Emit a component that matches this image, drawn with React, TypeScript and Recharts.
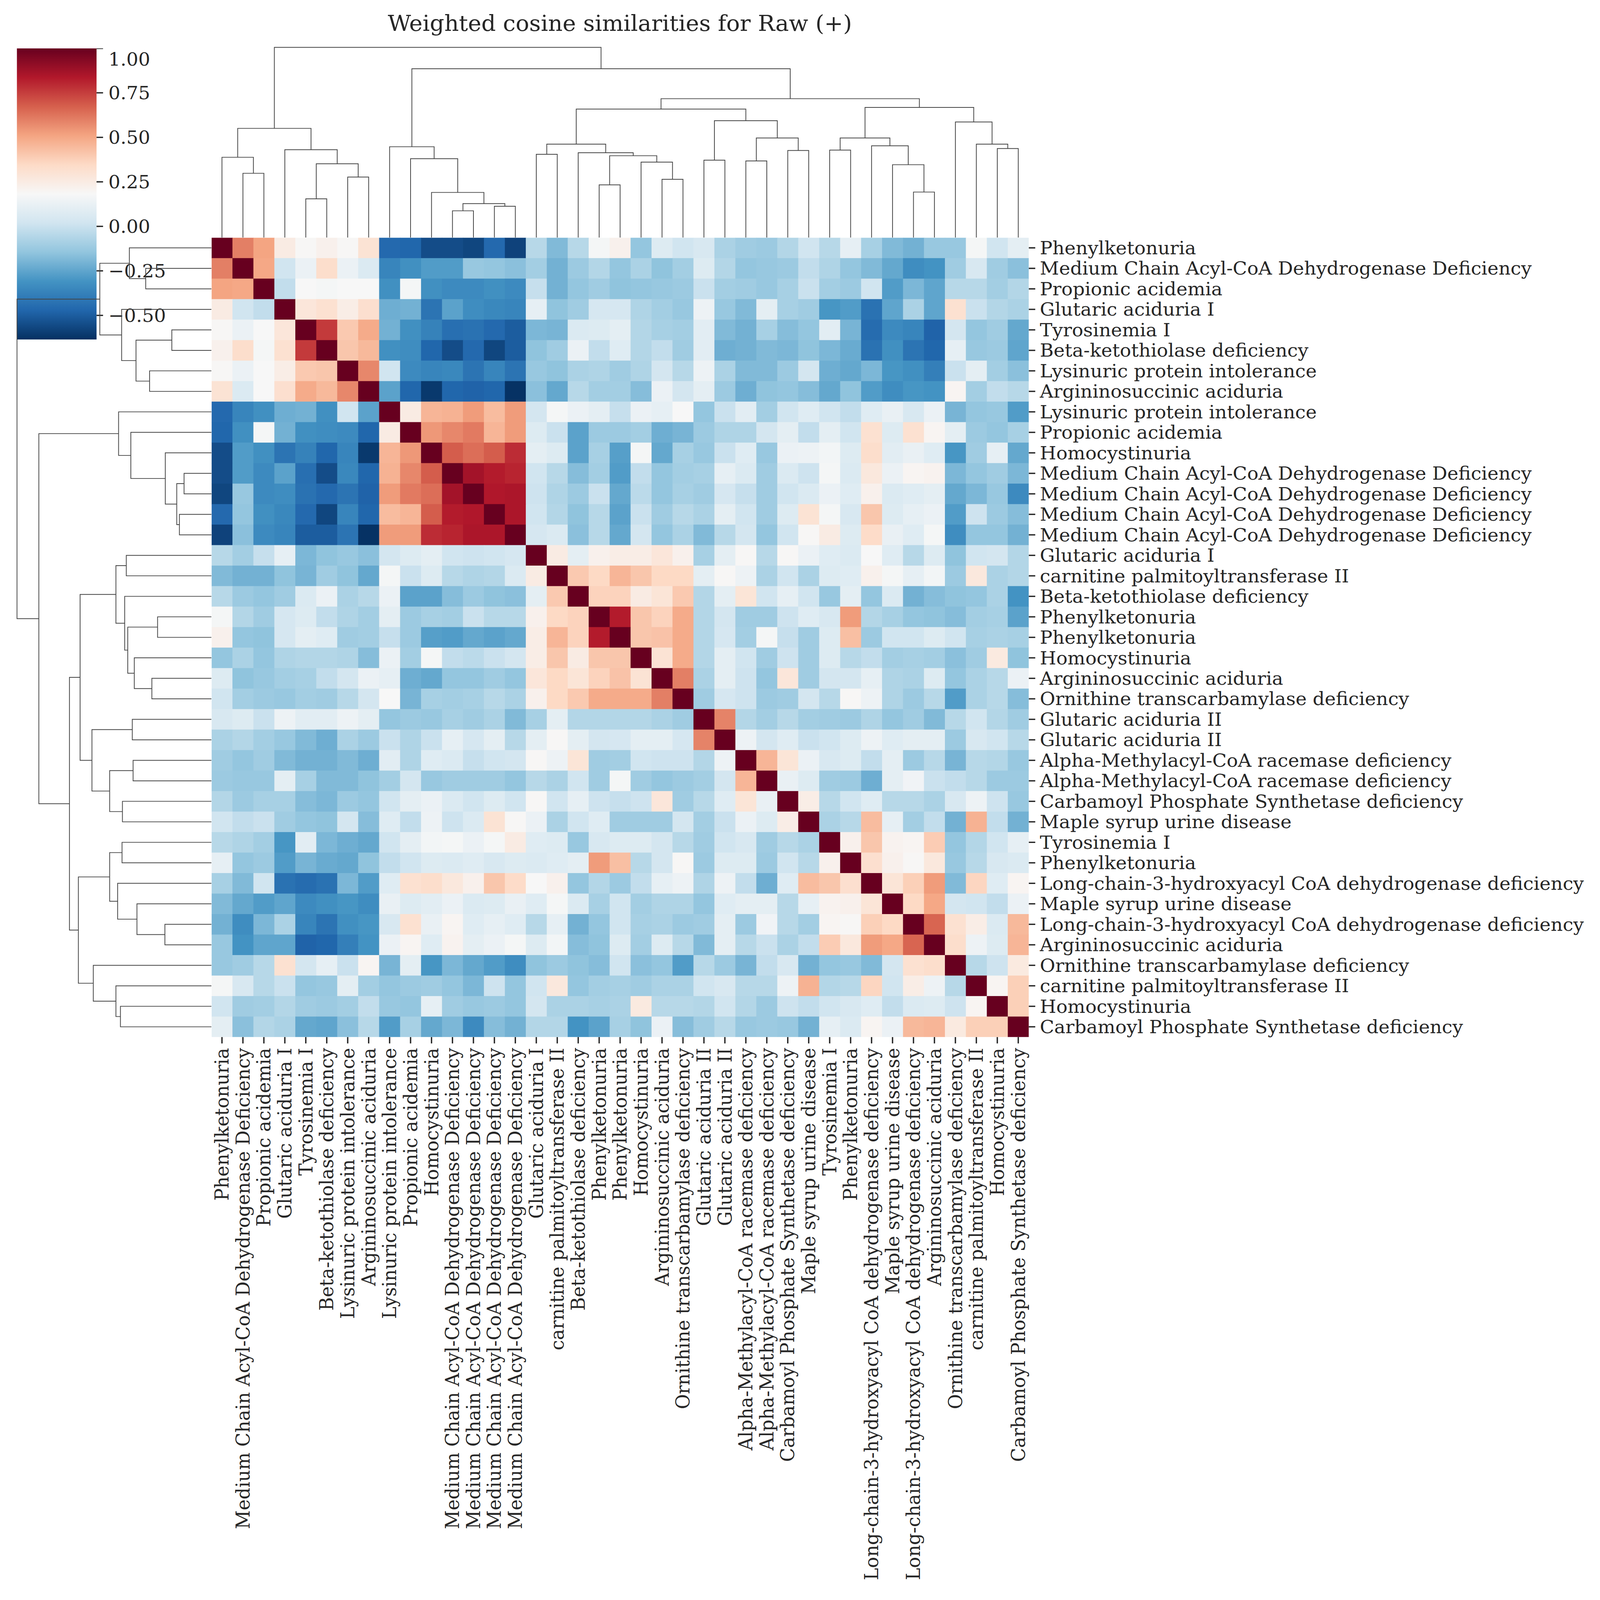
import React from "react";
import { ScatterChart, Scatter, BarChart, Bar, XAxis, YAxis } from "recharts";

document.body.style.margin = "0";

// leaf order (same for rows and columns)
const labels = [
  "Phenylketonuria",
  "Medium Chain Acyl-CoA Dehydrogenase Deficiency",
  "Propionic acidemia",
  "Glutaric aciduria I",
  "Tyrosinemia I",
  "Beta-ketothiolase deficiency",
  "Lysinuric protein intolerance",
  "Argininosuccinic aciduria",
  "Lysinuric protein intolerance",
  "Propionic acidemia",
  "Homocystinuria",
  "Medium Chain Acyl-CoA Dehydrogenase Deficiency",
  "Medium Chain Acyl-CoA Dehydrogenase Deficiency",
  "Medium Chain Acyl-CoA Dehydrogenase Deficiency",
  "Medium Chain Acyl-CoA Dehydrogenase Deficiency",
  "Glutaric aciduria I",
  "carnitine palmitoyltransferase II",
  "Beta-ketothiolase deficiency",
  "Phenylketonuria",
  "Phenylketonuria",
  "Homocystinuria",
  "Argininosuccinic aciduria",
  "Ornithine transcarbamylase deficiency",
  "Glutaric aciduria II",
  "Glutaric aciduria II",
  "Alpha-Methylacyl-CoA racemase deficiency",
  "Alpha-Methylacyl-CoA racemase deficiency",
  "Carbamoyl Phosphate Synthetase deficiency",
  "Maple syrup urine disease",
  "Tyrosinemia I",
  "Phenylketonuria",
  "Long-chain-3-hydroxyacyl CoA dehydrogenase deficiency",
  "Maple syrup urine disease",
  "Long-chain-3-hydroxyacyl CoA dehydrogenase deficiency",
  "Argininosuccinic aciduria",
  "Ornithine transcarbamylase deficiency",
  "carnitine palmitoyltransferase II",
  "Homocystinuria",
  "Carbamoyl Phosphate Synthetase deficiency",
];

// upper triangle of the similarity matrix: row i holds columns i..38
const upperRows: number[][] = [
  [1, 0.6, 0.51, 0.25, 0.19, 0.22, 0.19, 0.3, -0.46, -0.47, -0.55, -0.55, -0.57, -0.46, -0.58, -0.05, -0.18, -0.05, 0.17, 0.22, -0.14, 0.07, 0.02, 0.05, -0.08, -0.11, -0.12, -0.06, 0.02, -0.05, 0.11, -0.09, -0.18, -0.21, -0.13, -0.13, 0.17, 0.02, 0.1],
  [1, 0.5, 0.02, 0.13, 0.33, 0.13, 0.06, -0.36, -0.32, -0.28, -0.28, -0.13, -0.14, -0.16, -0.1, -0.21, -0.12, -0.06, -0.14, -0.08, -0.15, -0.1, 0.07, -0.06, -0.14, -0.13, -0.12, -0.02, -0.07, -0.14, -0.18, -0.24, -0.33, -0.31, -0.11, 0.05, -0.11, -0.16],
  [1, -0.02, 0.18, 0.17, 0.18, 0.18, -0.32, 0.17, -0.32, -0.34, -0.34, -0.32, -0.34, -0.01, -0.21, -0.14, -0.11, -0.15, -0.14, -0.13, -0.12, 0.0, -0.1, -0.11, -0.13, -0.09, 0.0, -0.1, -0.12, 0.02, -0.28, -0.19, -0.25, -0.05, -0.05, -0.1, -0.06],
  [1, 0.28, 0.31, 0.24, 0.32, -0.22, -0.21, -0.42, -0.26, -0.33, -0.35, -0.36, 0.11, -0.15, -0.11, 0.04, 0.04, -0.07, -0.1, -0.13, 0.14, -0.13, -0.18, 0.1, -0.09, -0.11, -0.3, -0.28, -0.43, -0.25, -0.08, -0.25, 0.31, 0.0, -0.06, -0.08],
  [1, 0.76, 0.4, 0.49, -0.21, -0.32, -0.37, -0.44, -0.43, -0.46, -0.5, -0.19, -0.2, 0.06, 0.07, 0.1, -0.06, -0.09, -0.1, 0.09, -0.18, -0.21, -0.09, -0.17, -0.14, 0.09, -0.2, -0.45, -0.34, -0.36, -0.48, 0.03, -0.14, -0.11, -0.24],
  [1, 0.41, 0.45, -0.32, -0.33, -0.47, -0.55, -0.46, -0.57, -0.5, -0.15, -0.11, 0.13, -0.02, 0.08, -0.06, -0.02, -0.11, 0.09, -0.22, -0.21, -0.18, -0.19, -0.15, -0.19, -0.23, -0.43, -0.32, -0.42, -0.47, 0.11, -0.13, -0.12, -0.25],
  [1, 0.58, 0.02, -0.34, -0.36, -0.35, -0.42, -0.36, -0.42, -0.13, -0.15, -0.08, -0.07, -0.11, -0.07, 0.03, -0.05, 0.14, -0.08, -0.18, -0.18, -0.12, 0.03, -0.22, -0.24, -0.19, -0.3, -0.32, -0.38, 0.0, 0.1, -0.1, -0.16],
  [1, -0.26, -0.47, -0.61, -0.47, -0.48, -0.47, -0.63, -0.16, -0.24, -0.05, -0.1, -0.1, -0.17, 0.13, 0.03, 0.1, -0.12, -0.22, -0.15, -0.14, -0.17, -0.24, -0.15, -0.28, -0.33, -0.3, -0.31, 0.2, -0.1, -0.02, -0.05],
  [1, 0.25, 0.46, 0.47, 0.53, 0.44, 0.53, 0.03, 0.17, 0.13, 0.1, -0.01, 0.13, 0.11, 0.18, -0.14, 0.0, 0.09, -0.1, 0.02, 0.08, 0.02, -0.02, 0.08, 0.12, 0.05, 0.13, -0.2, -0.14, -0.13, -0.28],
  [1, 0.54, 0.58, 0.61, 0.46, 0.53, 0.07, 0.0, -0.26, -0.12, -0.12, -0.1, -0.22, -0.2, -0.12, -0.07, -0.07, 0.03, 0.1, -0.02, 0.1, 0.02, 0.31, 0.07, 0.31, 0.2, 0.1, -0.12, -0.14, -0.09],
  [1, 0.68, 0.64, 0.68, 0.79, 0.1, 0.07, -0.26, -0.09, -0.27, 0.17, -0.24, -0.09, -0.13, 0.0, 0.08, -0.13, 0.13, 0.14, 0.16, 0.07, 0.33, 0.09, 0.12, 0.08, -0.3, -0.11, 0.11, -0.24],
  [1, 0.87, 0.83, 0.81, 0.02, -0.05, -0.17, -0.1, -0.28, -0.02, -0.14, -0.1, -0.09, 0.11, 0.06, -0.11, 0.06, 0.01, 0.17, 0.06, 0.27, 0.13, 0.2, 0.21, -0.19, -0.14, -0.11, -0.19],
  [1, 0.84, 0.85, 0.01, -0.07, -0.12, 0.0, -0.24, -0.04, -0.14, -0.09, -0.11, 0.04, -0.01, -0.11, 0.02, 0.06, 0.13, 0.08, 0.22, 0.06, 0.08, 0.1, -0.24, -0.19, -0.13, -0.34],
  [1, 0.85, 0.02, -0.06, -0.15, -0.05, -0.26, 0.0, -0.11, -0.05, -0.08, 0.1, 0.02, -0.11, 0.07, 0.3, 0.17, 0.05, 0.41, 0.07, 0.11, 0.13, -0.28, 0.01, -0.12, -0.17],
  [1, 0.04, 0.06, -0.16, -0.05, -0.24, 0.03, -0.14, -0.08, -0.18, -0.05, 0.03, -0.14, 0.02, 0.19, 0.25, 0.07, 0.34, 0.12, 0.08, 0.17, -0.33, -0.14, -0.14, -0.21],
  [1, 0.25, 0.1, 0.22, 0.24, 0.24, 0.28, 0.22, -0.09, 0.1, 0.19, -0.05, 0.19, 0.13, 0.08, 0.06, 0.18, 0.08, -0.05, 0.07, -0.15, 0.02, 0.03, -0.06],
  [1, 0.4, 0.35, 0.46, 0.41, 0.35, 0.35, 0.1, 0.19, 0.14, -0.08, 0.02, -0.08, 0.07, 0.08, 0.22, 0.17, 0.11, 0.16, -0.12, 0.27, -0.08, -0.06],
  [1, 0.37, 0.37, 0.25, 0.29, 0.4, -0.06, 0.1, 0.29, 0.02, 0.11, 0.02, -0.13, 0.1, -0.14, 0.06, -0.21, -0.17, -0.15, -0.14, -0.08, -0.31],
  [1, 0.83, 0.41, 0.37, 0.49, -0.06, 0.03, -0.11, -0.11, 0.01, 0.08, 0.05, 0.53, -0.06, -0.09, -0.14, -0.15, -0.17, -0.1, -0.09, -0.26],
  [1, 0.41, 0.42, 0.49, -0.06, 0.04, -0.1, 0.17, -0.01, -0.11, 0.07, 0.43, -0.12, 0.02, 0.02, 0.07, 0.02, -0.09, -0.08, -0.09],
  [1, 0.3, 0.49, -0.06, 0.1, 0.02, -0.11, 0.01, -0.11, 0.07, -0.05, -0.02, -0.1, -0.09, -0.1, -0.16, -0.11, 0.26, -0.15],
  [1, 0.6, -0.08, 0.1, 0.01, -0.14, 0.28, -0.11, 0.03, 0.03, 0.11, -0.07, -0.08, 0.07, -0.14, -0.08, -0.05, 0.13],
  [1, -0.11, 0.04, 0.01, -0.12, -0.11, 0.03, -0.05, 0.19, 0.14, -0.07, -0.12, -0.05, -0.28, -0.08, -0.05, -0.17],
  [1, 0.59, -0.06, -0.1, -0.05, -0.1, -0.11, -0.12, -0.07, -0.14, -0.11, -0.18, -0.05, 0.02, -0.06, -0.11],
  [1, 0.14, 0.03, 0.08, 0.0, 0.02, 0.07, 0.14, 0.08, 0.1, 0.1, -0.12, 0.05, 0.02, -0.05],
  [1, 0.46, 0.29, 0.13, 0.05, 0.07, -0.02, 0.1, -0.12, -0.05, -0.2, -0.05, -0.06, -0.13],
  [1, 0.12, 0.07, -0.11, -0.12, -0.22, 0.1, 0.15, 0.0, -0.02, -0.05, -0.12, -0.12],
  [1, 0.24, -0.05, 0.02, 0.08, -0.05, -0.05, -0.08, 0.05, 0.14, 0.01, -0.13],
  [1, -0.08, -0.05, 0.44, 0.11, -0.1, -0.02, -0.21, 0.47, -0.02, -0.21],
  [1, 0.22, 0.41, 0.21, 0.2, 0.39, -0.14, -0.06, 0.02, 0.11],
  [1, 0.32, 0.22, 0.19, 0.27, -0.13, -0.05, 0.05, 0.06],
  [1, 0.29, 0.38, 0.53, -0.18, 0.36, 0.08, 0.2],
  [1, 0.35, 0.5, 0.03, 0.02, -0.02, 0.13],
  [1, 0.66, 0.31, 0.24, 0.06, 0.45],
  [1, 0.33, 0.14, 0.07, 0.46],
  [1, -0.05, 0.01, 0.26],
  [1, 0.2, 0.38],
  [1, 0.38],
  [1],
];

// linkage: ids 0..38 are leaves, merge k creates id 39 + k
const mergeLeft = [11, 13, 39, 4, 10, 33, 18, 21, 6, 1, 32, 42, 20, 25, 23, 9, 0, 45, 15, 17, 27, 29, 3, 37, 8, 31, 57, 36, 52, 60, 55, 35, 53, 65, 68, 72, 63, 69];
const mergeRight = [12, 14, 40, 5, 41, 34, 19, 22, 7, 2, 44, 47, 46, 26, 24, 43, 48, 51, 16, 56, 28, 30, 50, 38, 54, 49, 58, 62, 59, 64, 61, 66, 67, 71, 70, 73, 74, 75];
const mergeHeight = [0.206, 0.241, 0.261, 0.298, 0.347, 0.35, 0.405, 0.448, 0.465, 0.494, 0.56, 0.567, 0.58, 0.589, 0.595, 0.606, 0.617, 0.629, 0.64, 0.652, 0.669, 0.672, 0.675, 0.684, 0.698, 0.705, 0.718, 0.718, 0.765, 0.765, 0.839, 0.888, 0.898, 0.987, 1.0, 1.067, 1.297, 1.461];

const colorbarTicks = [-0.5, -0.25, 0, 0.25, 0.5, 0.75, 1];
const VMIN = -0.636;
const VMAX = 1;
const colorbarSpan = [{ key: "cbar", span: [VMIN, VMAX] }];

const rdbuR = ["#053061", "#2166ac", "#4393c3", "#92c5de", "#d1e5f0", "#f7f7f7", "#fddbc7", "#f4a582", "#d6604d", "#b2182b", "#67001f"];

const FONT = "DejaVu Serif";
const INK = "#262626";
const N = labels.length;
// layout is drawn on the reference's 4176x4269 canvas, then fitted to the viewport
const PAGE_W = 4176;
const PAGE_H = 4269;
const HEAT = 2133;
const CELL = HEAT / N;
const HEAT_LEFT = 552;
const HEAT_TOP = 634;
const DENDRO = 533;
const DENDRO_MAX = 1.461 * 1.05;
const TICK_FONT = 49;

function hexToRgb(h: string) {
  return [1, 3, 5].map((i) => parseInt(h.slice(i, i + 2), 16));
}

function colorFor(v: number) {
  const t = Math.min(1, Math.max(0, (v - VMIN) / (VMAX - VMIN)));
  const s = t * (rdbuR.length - 1);
  const i = Math.min(rdbuR.length - 2, Math.floor(s));
  const f = s - i;
  const a = hexToRgb(rdbuR[i]);
  const b = hexToRgb(rdbuR[i + 1]);
  const c = a.map((x, k) => Math.round(x + (b[k] - x) * f));
  return `rgb(${c[0]},${c[1]},${c[2]})`;
}

function valueAt(r: number, c: number) {
  return r <= c ? upperRows[r][c - r] : upperRows[c][r - c];
}

const cells: { x: number; y: number; v: number }[] = [];
for (let r = 0; r < N; r++) {
  for (let c = 0; c < N; c++) {
    cells.push({ x: c + 0.5, y: r + 0.5, v: valueAt(r, c) });
  }
}

// U-shaped links of the dendrogram, in leaf-position / height units
function buildLinks() {
  const pos: number[] = labels.map((_, i) => i + 0.5);
  const hgt: number[] = labels.map(() => 0);
  const links: { p: number; h: number }[][] = [];
  mergeLeft.forEach((a, k) => {
    const b = mergeRight[k];
    const h = mergeHeight[k];
    links.push([
      { p: pos[a], h: hgt[a] },
      { p: pos[a], h },
      { p: pos[b], h },
      { p: pos[b], h: hgt[b] },
    ]);
    pos.push((pos[a] + pos[b]) / 2);
    hgt.push(h);
  });
  return links;
}
const links = buildLinks();

const positions = labels.map((_, i) => i + 0.5);
const noDot = () => <g />;
const linkStyle = { stroke: "#444", strokeWidth: 2 };

const CellShape = (props: any) => {
  const { cx, cy, payload } = props;
  return <rect x={cx - CELL / 2} y={cy - CELL / 2} width={CELL + 0.8} height={CELL + 0.8} fill={colorFor(payload.v)} />;
};

const RowTick = (props: any) => {
  const { x, y, payload } = props;
  return (
    <text x={x} y={y} dy="0.35em" textAnchor="start" fontFamily={FONT} fontSize={TICK_FONT} fill={INK}>
      {labels[Math.floor(payload.value)]}
    </text>
  );
};

const ColTick = (props: any) => {
  const { x, y, payload } = props;
  return (
    <text x={x} y={y} dy="0.35em" transform={`rotate(-90 ${x} ${y})`} textAnchor="end" fontFamily={FONT} fontSize={TICK_FONT} fill={INK}>
      {labels[Math.floor(payload.value)]}
    </text>
  );
};

const fmt = (v: number) => v.toFixed(2).replace("-", "\u2212");

export default function App() {
  const vw = window.innerWidth || PAGE_W;
  const vh = window.innerHeight || PAGE_H;
  const sx = vw / PAGE_W;
  const sy = vh / PAGE_H;
  return (
    <div style={{ width: vw, height: vh, overflow: "hidden", background: "#fff" }}>
      <div
        style={{
          position: "relative",
          width: PAGE_W,
          height: PAGE_H,
          overflow: "hidden",
          background: "#fff",
          fontFamily: FONT,
          transform: `scale(${sx}, ${sy})`,
          transformOrigin: "0 0",
        }}
      >
        <svg width={0} height={0} style={{ position: "absolute" }}>
          <defs>
            <linearGradient id="rdbu" x1="0" y1="1" x2="0" y2="0">
              {rdbuR.map((c, i) => (
                <stop key={i} offset={i / (rdbuR.length - 1)} stopColor={c} />
              ))}
            </linearGradient>
          </defs>
        </svg>

        <div style={{ position: "absolute", left: 0, width: 3236, top: 32, textAlign: "center", fontSize: 59, lineHeight: "59px", color: INK }}>
          Weighted cosine similarities for Raw (+)
        </div>

        {/* colour bar */}
        <div style={{ position: "absolute", left: 44, top: 129 }}>
          <BarChart width={508} height={777} data={colorbarSpan} margin={{ top: 0, right: 0, bottom: 0, left: 0 }} barCategoryGap={0}>
            <XAxis type="category" dataKey="key" hide />
            <YAxis
              type="number"
              orientation="right"
              width={300}
              domain={[VMIN, VMAX]}
              ticks={colorbarTicks}
              tickFormatter={fmt}
              axisLine={false}
              tickSize={17}
              tickMargin={14}
              tickLine={{ stroke: INK, strokeWidth: 3.5 }}
              tick={{ fontFamily: FONT, fontSize: TICK_FONT, fill: INK }}
              allowDataOverflow
            />
            <Bar dataKey="span" fill="url(#rdbu)" isAnimationActive={false} />
          </BarChart>
        </div>

        {/* column dendrogram */}
        <div style={{ position: "absolute", left: HEAT_LEFT, top: HEAT_TOP - DENDRO }}>
          <ScatterChart width={HEAT} height={DENDRO} margin={{ top: 0, right: 0, bottom: 0, left: 0 }}>
            <XAxis type="number" dataKey="p" domain={[0, N]} hide />
            <YAxis type="number" dataKey="h" domain={[0, DENDRO_MAX]} hide />
            {links.map((pts, i) => (
              <Scatter key={i} data={pts} line={linkStyle} shape={noDot} isAnimationActive={false} />
            ))}
          </ScatterChart>
        </div>

        {/* row dendrogram */}
        <div style={{ position: "absolute", left: HEAT_LEFT - DENDRO, top: HEAT_TOP }}>
          <ScatterChart width={DENDRO} height={HEAT} margin={{ top: 0, right: 0, bottom: 0, left: 0 }}>
            <XAxis type="number" dataKey="h" domain={[0, DENDRO_MAX]} reversed hide />
            <YAxis type="number" dataKey="p" domain={[0, N]} reversed hide />
            {links.map((pts, i) => (
              <Scatter key={i} data={pts} line={linkStyle} shape={noDot} isAnimationActive={false} />
            ))}
          </ScatterChart>
        </div>

        {/* heatmap */}
        <div style={{ position: "absolute", left: HEAT_LEFT, top: HEAT_TOP }}>
          <ScatterChart width={HEAT + 1491} height={HEAT + 1502} margin={{ top: 0, right: 0, bottom: 0, left: 0 }}>
            <XAxis
              type="number"
              dataKey="x"
              domain={[0, N]}
              ticks={positions}
              interval={0}
              height={1502}
              axisLine={false}
              tickSize={17}
              tickMargin={12}
              tickLine={{ stroke: INK, strokeWidth: 3.5 }}
              tick={<ColTick />}
              allowDataOverflow
            />
            <YAxis
              type="number"
              dataKey="y"
              domain={[0, N]}
              reversed
              orientation="right"
              ticks={positions}
              interval={0}
              width={1491}
              axisLine={false}
              tickSize={17}
              tickMargin={12}
              tickLine={{ stroke: INK, strokeWidth: 3.5 }}
              tick={<RowTick />}
              allowDataOverflow
            />
            <Scatter data={cells} shape={CellShape} isAnimationActive={false} />
          </ScatterChart>
        </div>
      </div>
    </div>
  );
}
